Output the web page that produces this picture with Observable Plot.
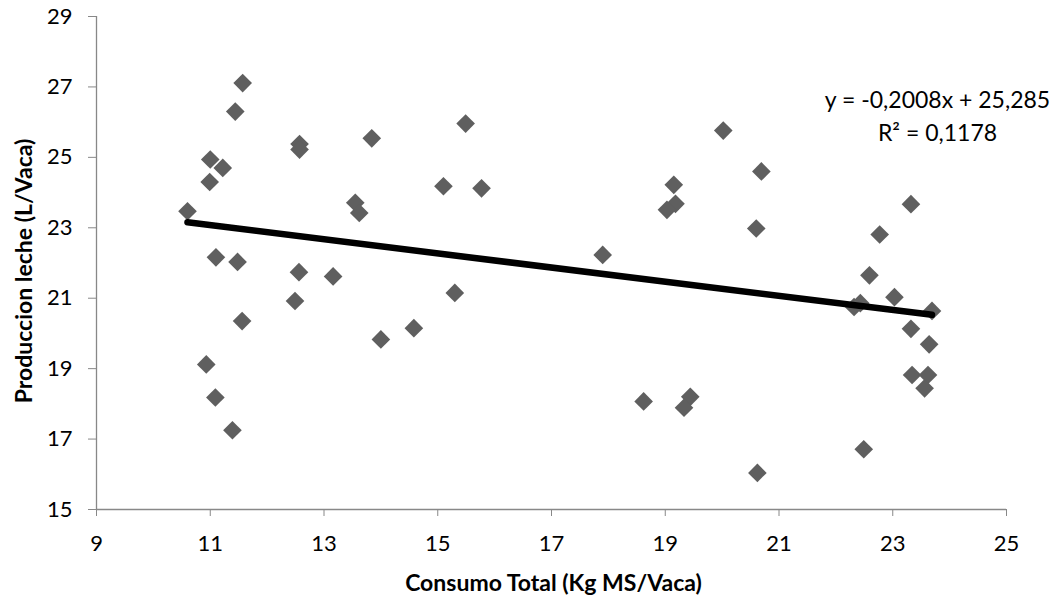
<!DOCTYPE html>
<html>
<head>
<meta charset="utf-8">
<script src="https://cdn.jsdelivr.net/npm/d3@7"></script>
<script src="https://cdn.jsdelivr.net/npm/@observablehq/plot@0.6"></script>
<style>
  html, body { margin: 0; padding: 0; background: #fff; }
  #chart svg { display: block; overflow: visible; }
</style>
</head>
<body>
<div id="chart"></div>
<script>
// Consumo total de materia seca (Kg MS/Vaca) por vaca
const consumo = [
  10.60, 10.99, 11.00, 11.22, 11.44, 11.57, 12.57, 12.57, 11.10, 11.48,
  12.56, 13.16, 13.55, 13.62, 12.49, 11.56, 10.93, 11.09, 11.39, 13.84,
  15.49, 15.10, 15.77, 17.90, 15.30, 14.58, 14.00, 19.15, 19.18, 19.03,
  18.62, 19.44, 19.33, 20.02, 20.69, 20.60, 20.62, 23.32, 22.77, 22.59,
  23.03, 22.43, 22.32, 23.69, 23.32, 23.64, 23.34, 23.62, 23.56, 22.49
];
// Producción de leche (L/Vaca) de cada vaca
const produccion = [
  23.47, 24.30, 24.94, 24.70, 26.30, 27.11, 25.38, 25.22, 22.16, 22.03,
  21.74, 21.62, 23.71, 23.42, 20.92, 20.35, 19.12, 18.18, 17.25, 25.54,
  25.96, 24.18, 24.12, 22.23, 21.15, 20.15, 19.83, 24.22, 23.68, 23.51,
  18.07, 18.20, 17.89, 25.76, 24.60, 22.98, 16.04, 23.67, 22.81, 21.65,
  21.03, 20.86, 20.75, 20.64, 20.13, 19.69, 18.82, 18.82, 18.44, 16.71
];

// Tendencia lineal: y = pendiente·x + intercepto
const pendiente = -0.2008;
const intercepto = 25.285;
const r2 = 0.1178;

const xTicks = [9, 11, 13, 15, 17, 19, 21, 23, 25];
const yTicks = [15, 17, 19, 21, 23, 25, 27, 29];

const puntos = consumo.map((x, i) => ({x, y: produccion[i]}));
const [xMin, xMax] = d3.extent(consumo);
const tendencia = [xMin, xMax].map(x => ({x, y: pendiente * x + intercepto}));

const coma = (v, d) => v.toFixed(d).replace(".", ",");
const ecuacion = `y = ${pendiente < 0 ? "-" : ""}${coma(Math.abs(pendiente), 4)}x + ${coma(intercepto, 3)}`;
const ajuste = `R² = ${coma(r2, 4)}`;

const font = "Lato, 'Open Sans', sans-serif";
const gris = "#888888";
const tam = 22;

const chart = Plot.plot({
  width: 1057,
  height: 598,
  marginLeft: 96,
  marginRight: 51,
  marginTop: 16,
  marginBottom: 89,
  style: {fontFamily: font, fontSize: `${tam}px`, color: "#000", background: "#fff"},
  x: {domain: [9, 25], ticks: xTicks, label: null},
  y: {domain: [15, 29], ticks: yTicks, label: null},
  marks: [
    Plot.ruleX([9], {stroke: gris, strokeWidth: 1.3}),
    Plot.ruleY([15], {stroke: gris, strokeWidth: 1.3}),
    Plot.axisX({ticks: xTicks, tickSize: 7, tickPadding: 19, stroke: gris, strokeOpacity: 1,
      fill: "#000", fontSize: tam, label: null}),
    Plot.axisY({ticks: yTicks, tickSize: 8, tickPadding: 16, stroke: gris, strokeOpacity: 1,
      fill: "#000", fontSize: tam, label: null}),
    Plot.dot(puntos, {x: "x", y: "y", symbol: "diamond2", r: 8.4, fill: "#5f5f5f", stroke: "none"}),
    Plot.line(tendencia, {x: "x", y: "y", stroke: "#000", strokeWidth: 6.5, strokeLinecap: "round"}),
    Plot.text([ecuacion], {frameAnchor: "top-right", dx: -69, dy: 84, textAnchor: "middle",
      lineAnchor: "middle", fontSize: tam + 1, fill: "#000"}),
    Plot.text([ajuste], {frameAnchor: "top-right", dx: -69, dy: 117, textAnchor: "middle",
      lineAnchor: "middle", fontSize: tam + 1, fill: "#000"}),
    Plot.text(["Consumo Total (Kg MS/Vaca)"], {frameAnchor: "bottom", dy: 74, dx: 2, lineAnchor: "middle",
      fontWeight: "bold", fontSize: tam + 1, fill: "#000"}),
    Plot.text(["Produccion leche (L/Vaca)"], {frameAnchor: "left", dx: -72, dy: 8, rotate: -90,
      textAnchor: "middle", lineAnchor: "middle", fontWeight: "bold", fontSize: tam + 1, fill: "#000"})
  ]
});

document.getElementById("chart").appendChild(chart);
</script>
</body>
</html>
